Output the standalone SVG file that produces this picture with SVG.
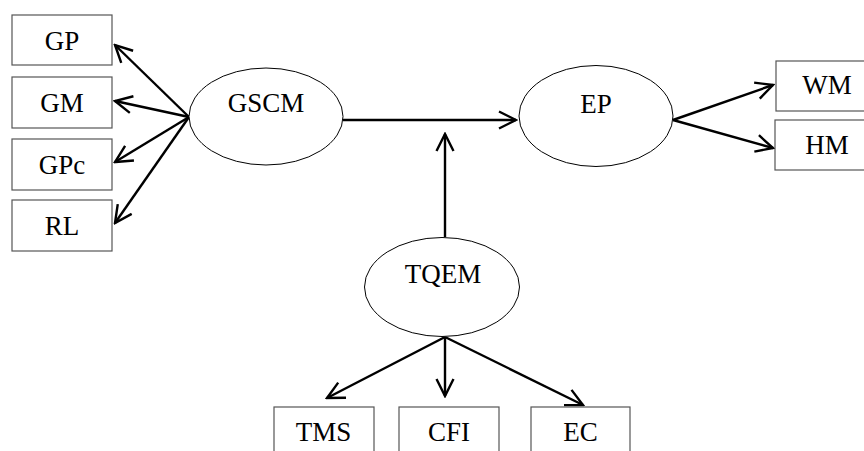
<svg xmlns="http://www.w3.org/2000/svg" width="864" height="451" viewBox="0 0 864 451">
<style>
.box{fill:#fff;stroke:#555;stroke-width:1.2}
.ell{fill:#fff;stroke:#000;stroke-width:1}
.lbl{font-family:"Liberation Serif","Times New Roman",serif;font-size:27px;fill:#000;text-anchor:middle}
.con{stroke:#000;stroke-width:2.4;fill:none;marker-end:url(#arr)}
</style>
<defs>
<marker id="arr" markerUnits="userSpaceOnUse" viewBox="0 0 20 20" markerWidth="20" markerHeight="20" refX="18" refY="10" orient="auto">
<path d="M1,1.5 L18,10 L1,18.5" fill="none" stroke="#000" stroke-width="2.4"/>
</marker>
</defs>
<rect width="864" height="451" fill="#fff"/>
<g id="connectors">
<line class="con" x1="189" y1="117" x2="115" y2="45"/>
<line class="con" x1="189" y1="117" x2="115" y2="101"/>
<line class="con" x1="189" y1="117" x2="115" y2="162"/>
<line class="con" x1="189" y1="117" x2="115" y2="223"/>
<line class="con" x1="343" y1="120" x2="516" y2="120"/>
<line class="con" x1="445" y1="237" x2="445" y2="134"/>
<line class="con" x1="673" y1="120" x2="773" y2="85"/>
<line class="con" x1="673" y1="120" x2="773" y2="148"/>
<line class="con" x1="445" y1="337" x2="327" y2="398"/>
<line class="con" x1="445" y1="337" x2="445" y2="396"/>
<line class="con" x1="445" y1="337" x2="583" y2="405"/>
</g>
<g id="GP"><rect class="box" x="12" y="15" width="100" height="50"/><text class="lbl" x="62" y="49.5">GP</text></g>
<g id="GM"><rect class="box" x="12" y="77" width="100" height="51"/><text class="lbl" x="62" y="112">GM</text></g>
<g id="GPc"><rect class="box" x="12" y="139" width="100" height="51"/><text class="lbl" x="62" y="174">GPc</text></g>
<g id="RL"><rect class="box" x="12" y="200" width="100" height="51"/><text class="lbl" x="62" y="234.5">RL</text></g>
<g id="GSCM"><ellipse class="ell" cx="266" cy="116.5" rx="77" ry="48.5"/><text class="lbl" x="266" y="112">GSCM</text></g>
<g id="EP"><ellipse class="ell" cx="596" cy="116" rx="77" ry="50.5"/><text class="lbl" x="596" y="112.5">EP</text></g>
<g id="WM"><rect class="box" x="776" y="61" width="102" height="50"/><text class="lbl" x="827" y="94">WM</text></g>
<g id="HM"><rect class="box" x="775" y="120" width="103" height="50"/><text class="lbl" x="827" y="154">HM</text></g>
<g id="TQEM"><ellipse class="ell" cx="442" cy="287" rx="77.5" ry="49.5"/><text class="lbl" x="443" y="282.5">TQEM</text></g>
<g id="TMS"><rect class="box" x="274" y="407" width="100" height="55"/><text class="lbl" x="323.5" y="441">TMS</text></g>
<g id="CFI"><rect class="box" x="399" y="407" width="100" height="55"/><text class="lbl" x="449" y="441">CFI</text></g>
<g id="EC"><rect class="box" x="531" y="407" width="99" height="55"/><text class="lbl" x="580.5" y="441">EC</text></g>
</svg>
